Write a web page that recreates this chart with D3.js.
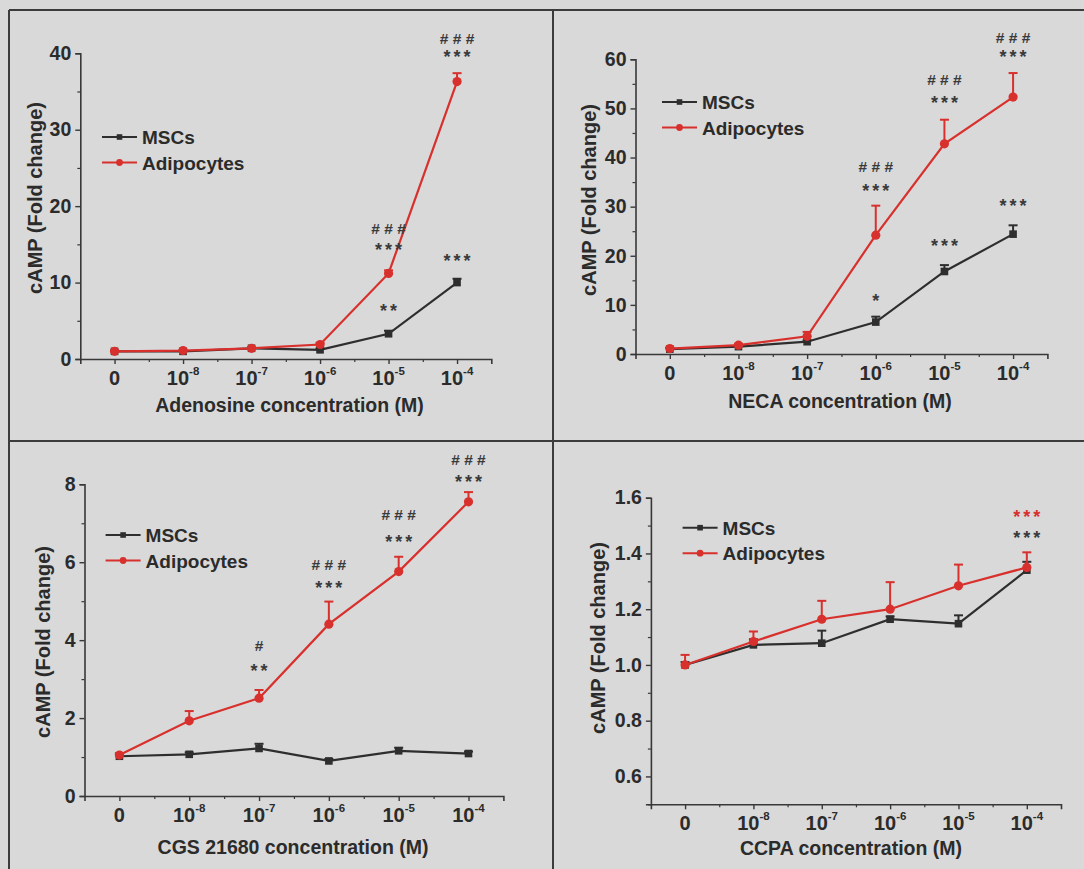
<!DOCTYPE html>
<html><head><meta charset="utf-8">
<script src="https://cdn.jsdelivr.net/npm/d3@7"></script>
<style>body{margin:0;background:#d9d9d9;}svg{display:block;}</style>
</head><body><svg id="c" width="1084" height="869"></svg>
<script>
// ---------- data ----------
const tickBase = ["0","10","10","10","10","10"];
const tickExp  = ["","-8","-7","-6","-5","-4"];
const seriesNames = ["MSCs","Adipocytes"];
const xTitles = ["Adenosine concentration (M)","NECA concentration (M)","CGS 21680 concentration (M)","CCPA concentration (M)"];
const yTitle = "cAMP (Fold change)";

const adenosineMSC      = [1.0, 1.0, 1.4, 1.2, 3.3, 10.0];
const adenosineMSCErr   = [0.1, 0.1, 0.1, 0.2, 0.4, 0.5];
const adenosineAdipo    = [1.0, 1.1, 1.4, 1.9, 11.2, 36.3];
const adenosineAdipoErr = [0.1, 0.1, 0.1, 0.2, 0.4, 1.1];

const necaMSC      = [1.0, 1.5, 2.5, 6.5, 16.8, 24.4];
const necaMSCErr   = [0.2, 0.2, 0.3, 1.1, 1.3, 1.8];
const necaAdipo    = [1.1, 1.8, 3.6, 24.2, 42.8, 52.3];
const necaAdipoErr = [0.2, 0.3, 0.9, 6.0, 4.9, 4.9];

const cgsMSC      = [1.02, 1.07, 1.22, 0.90, 1.16, 1.09];
const cgsMSCErr   = [0.05, 0.05, 0.12, 0.05, 0.08, 0.05];
const cgsAdipo    = [1.05, 1.93, 2.51, 4.41, 5.76, 7.55];
const cgsAdipoErr = [0.05, 0.25, 0.21, 0.58, 0.38, 0.25];

const ccpaMSC      = [1.0, 1.072, 1.078, 1.164, 1.148, 1.34];
const ccpaMSCErr   = [0.01, 0.02, 0.045, 0.01, 0.03, 0.03];
const ccpaAdipo    = [1.0, 1.084, 1.164, 1.20, 1.284, 1.35];
const ccpaAdipoErr = [0.036, 0.036, 0.066, 0.097, 0.076, 0.054];

// significance marks: [tick index, text, value level, colour key]
const annAdenosine = [[4,"###",17.1,"k"],[4,"***",14.8,"k"],[4,"**",6.8,"k"],
                      [5,"###",42.0,"k"],[5,"***",40.0,"k"],[5,"***",13.35,"k"]];
const annNeca = [[3,"###",38.1,"k"],[3,"***",34.1,"k"],[3,"*",11.7,"k"],
                 [4,"###",55.8,"k"],[4,"***",51.9,"k"],[4,"***",22.8,"k"],
                 [5,"###",64.4,"k"],[5,"***",61.3,"k"],[5,"***",31.0,"k"]];
const annCgs = [[2,"#",3.87,"k"],[2,"**",3.31,"k"],
                [3,"###",5.95,"k"],[3,"***",5.45,"k"],
                [4,"###",7.23,"k"],[4,"***",6.63,"k"],
                [5,"###",8.64,"k"],[5,"***",8.17,"k"]];
const annCcpa = [[5,"***",1.544,"r"],[5,"***",1.47,"k"]];

// y axis settings (values)
const yDomains = [[0,40],[0,60],[0,8],[0.5,1.6]];
const yMajor = [[0,10,20,30,40],[0,10,20,30,40,50,60],[0,2,4,6,8],[0.6,0.8,1.0,1.2,1.4,1.6]];
const yMinor = [[5,15,25,35],[5,15,25,35,45,55],[1,3,5,7],[0.5,0.7,0.9,1.1,1.3,1.5]];

// ---------- layout ----------
const C = {bg:"#d9d9d9", ink:"#2b2b2b", axis:"#383838", red:"#d8302c", black:"#2e2e2e", frame:"#3c3c3c"};
const panels = [
  {xl:80.3, xr:491.3, yt:53.3, yb:359, lgX:102, lgY:137, titleX:289.5, titleDy:47, yTitleX:35, yTitleY:198, fmt:d3.format("d"),
   s:[adenosineMSC,adenosineAdipo], e:[adenosineMSCErr,adenosineAdipoErr], ann:annAdenosine},
  {xl:635.5, xr:1047.4, yt:59.3, yb:354, lgX:662, lgY:102, titleX:840, titleDy:48, yTitleX:589, yTitleY:200, fmt:d3.format("d"),
   s:[necaMSC,necaAdipo], e:[necaMSCErr,necaAdipoErr], ann:annNeca},
  {xl:84.5, xr:503.4, yt:484.3, yb:796, lgX:105.6, lgY:535, titleX:293, titleDy:52, yTitleX:43, yTitleY:642, fmt:d3.format("d"),
   s:[cgsMSC,cgsAdipo], e:[cgsMSCErr,cgsAdipoErr], ann:annCgs},
  {xl:650.9, xr:1061, yt:497.7, yb:804.3, lgX:682.6, lgY:527.7, titleX:851, titleDy:45, yTitleX:598, yTitleY:638, fmt:d3.format(".1f"),
   s:[ccpaMSC,ccpaAdipo], e:[ccpaMSCErr,ccpaAdipoErr], ann:annCcpa}
];

const svg = d3.select("#c");
svg.append("rect").attr("width",1084).attr("height",869).attr("fill",C.bg);

// frame lines
const fr = svg.append("g").attr("stroke",C.frame).attr("stroke-width",2);
fr.append("line").attr("x1",9).attr("y1",10).attr("x2",9).attr("y2",869);
fr.append("line").attr("x1",9).attr("y1",10).attr("x2",1084).attr("y2",10);
fr.append("line").attr("x1",553).attr("y1",10).attr("x2",553).attr("y2",869);
fr.append("line").attr("x1",9).attr("y1",441).attr("x2",1084).attr("y2",441);

const FONT = "Liberation Sans, Arial, Helvetica, sans-serif";

panels.forEach((p, k) => {
  const g = svg.append("g").attr("font-family",FONT).attr("fill",C.ink);
  const x = d3.scaleLinear().domain([-0.5,5.5]).range([p.xl,p.xr]);
  const y = d3.scaleLinear().domain(yDomains[k]).range([p.yb,p.yt]);
  const idx = d3.range(6);

  // x axis
  const xa = g.append("g").attr("transform",`translate(0,${p.yb})`)
    .call(d3.axisBottom(x).tickValues(idx).tickSize(5).tickFormat(""));
  xa.select(".domain").attr("stroke",C.axis).attr("stroke-width",1.6);
  xa.selectAll(".tick line").attr("stroke",C.axis).attr("stroke-width",1.4);
  const xm = g.append("g").attr("transform",`translate(0,${p.yb})`)
    .call(d3.axisBottom(x).tickValues([0.5,1.5,2.5,3.5,4.5]).tickSize(3).tickFormat(""));
  xm.select(".domain").remove();
  xm.selectAll(".tick line").attr("stroke",C.axis).attr("stroke-width",1.2);

  // x tick labels with superscripts
  idx.forEach(i => {
    const t = g.append("text").attr("x",x(i)).attr("y",p.yb+26)
      .attr("text-anchor","middle").attr("font-size",20).attr("font-weight","bold");
    t.append("tspan").text(tickBase[i]);
    if (tickExp[i]) t.append("tspan").attr("dy",-10).attr("font-size",11.5).text(tickExp[i]);
  });
  g.append("text").attr("x",p.titleX).attr("y",p.yb+p.titleDy+6)
    .attr("text-anchor","middle").attr("font-size",19.5).attr("font-weight","bold").text(xTitles[k]);

  // y axis
  const ya = g.append("g").attr("transform",`translate(${p.xl},0)`)
    .call(d3.axisLeft(y).tickValues(yMajor[k]).tickSize(5).tickFormat(p.fmt));
  ya.select(".domain").attr("stroke",C.axis).attr("stroke-width",1.6);
  ya.selectAll(".tick line").attr("stroke",C.axis).attr("stroke-width",1.4);
  ya.selectAll(".tick text").attr("font-size",19.5).attr("font-weight","bold")
    .attr("font-family",FONT).attr("fill",C.ink).attr("x",-9);
  const ym = g.append("g").attr("transform",`translate(${p.xl},0)`)
    .call(d3.axisLeft(y).tickValues(yMinor[k]).tickSize(3).tickFormat(""));
  ym.select(".domain").remove();
  ym.selectAll(".tick line").attr("stroke",C.axis).attr("stroke-width",1.2);

  g.append("text").attr("transform",`translate(${p.yTitleX+7},${p.yTitleY}) rotate(-90)`)
    .attr("text-anchor","middle").attr("font-size",20).attr("font-weight","bold").text(yTitle);

  // series
  const cols = [C.black, C.red];
  [0,1].forEach(s => {
    const vals = p.s[s], errs = p.e[s], col = cols[s];
    const line = d3.line().x((d,i)=>x(i)).y(d=>y(d));
    idx.forEach(i => {
      const y1 = y(vals[i]), y2 = y(vals[i]+errs[i]);
      g.append("line").attr("x1",x(i)).attr("x2",x(i)).attr("y1",y1).attr("y2",y2)
        .attr("stroke",col).attr("stroke-width",2);
      g.append("line").attr("x1",x(i)-4.5).attr("x2",x(i)+4.5).attr("y1",y2).attr("y2",y2)
        .attr("stroke",col).attr("stroke-width",2);
    });
    g.append("path").datum(vals).attr("d",line).attr("fill","none")
      .attr("stroke",col).attr("stroke-width",2.2);
    idx.forEach(i => {
      if (s===0) g.append("rect").attr("x",x(i)-3.8).attr("y",y(vals[i])-3.8)
        .attr("width",7.6).attr("height",7.6).attr("fill",col);
      else g.append("circle").attr("cx",x(i)).attr("cy",y(vals[i])).attr("r",4.6).attr("fill",col);
    });
    // legend
    const ly = p.lgY + s*25.5;
    g.append("line").attr("x1",p.lgX).attr("x2",p.lgX+35).attr("y1",ly).attr("y2",ly)
      .attr("stroke",col).attr("stroke-width",2);
    if (s===0) g.append("rect").attr("x",p.lgX+17.5-2.8).attr("y",ly-2.8).attr("width",5.6).attr("height",5.6).attr("fill",col);
    else g.append("circle").attr("cx",p.lgX+17.5).attr("cy",ly).attr("r",3.4).attr("fill",col);
    g.append("text").attr("x",p.lgX+40).attr("y",ly+7).attr("font-size",19).attr("font-weight","bold")
      .text(seriesNames[s]);
  });

  // significance marks
  p.ann.forEach(([i,txt,v,c]) => {
    const cy = y(v);
    const isStar = txt[0]==="*";
    const t = g.append("text").attr("x",x(i)+(isStar?1.5:0)).attr("text-anchor","middle")
      .attr("fill", c==="r" ? C.red : "#3a3a3a").attr("font-weight","bold");
    if (isStar) t.attr("y",cy+10).attr("font-size",18).attr("letter-spacing",3).text(txt);
    else t.attr("y",cy+5.5).attr("font-size",15.5).text(txt.split("").join(" "));
  });
});
</script>
</body></html>
